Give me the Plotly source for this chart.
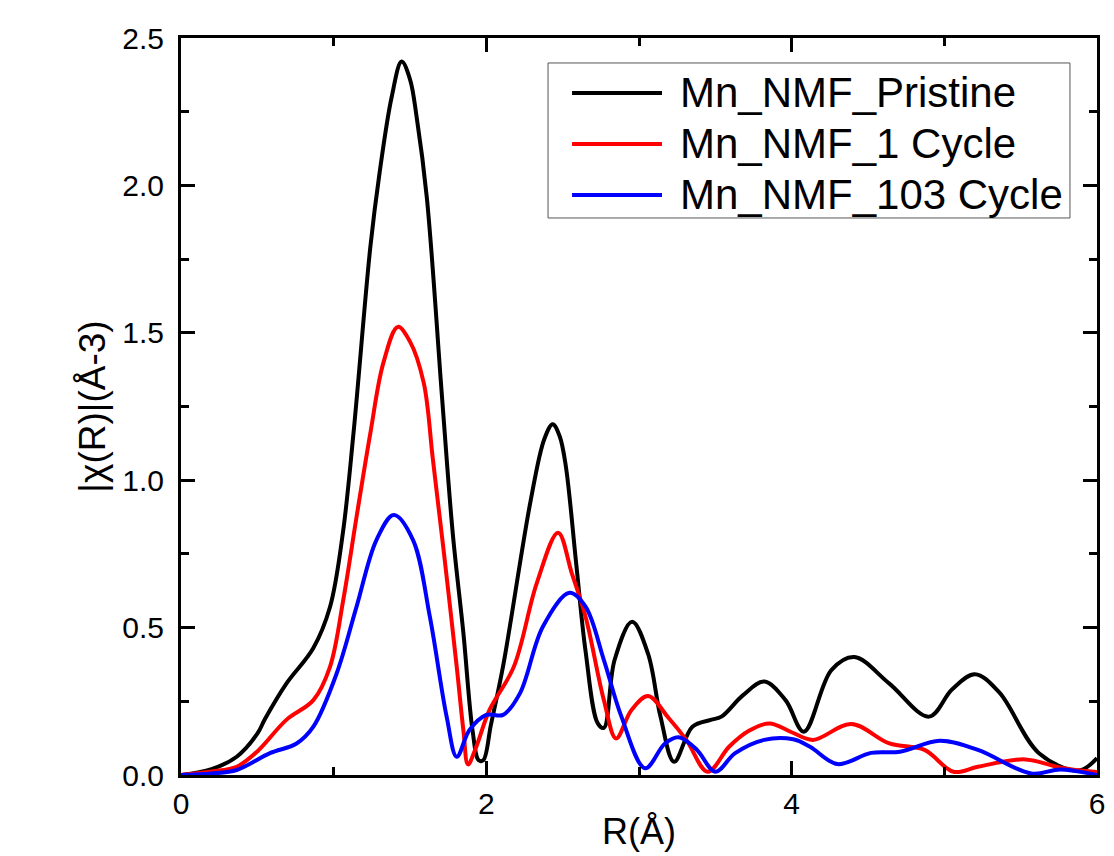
import plotly.graph_objects as go

# Fourier-transform magnitudes
r_pristine = [0, 0.2, 0.365, 0.5, 0.55, 0.69, 0.866, 0.976, 1.06, 1.13, 1.24, 1.30, 1.38, 1.445,
              1.50, 1.544, 1.61, 1.71, 1.78, 1.85, 1.91, 1.95, 1.98, 2.03, 2.11, 2.29, 2.38, 2.435,
              2.48, 2.52, 2.59, 2.65, 2.73, 2.77, 2.84, 2.955, 3.06, 3.14, 3.23, 3.35, 3.47, 3.54,
              3.68, 3.82, 3.96, 4.08, 4.26, 4.41, 4.64, 4.90, 5.05, 5.20, 5.36, 5.62, 5.88, 6.0]
chi_pristine = [0, 0.02, 0.062, 0.14, 0.19, 0.31, 0.43, 0.57, 0.82, 1.16, 1.79, 2.04, 2.30, 2.42,
                2.36, 2.23, 1.96, 1.28, 0.82, 0.48, 0.15, 0.05, 0.05, 0.17, 0.37, 0.93, 1.14, 1.19,
                1.15, 1.05, 0.71, 0.42, 0.175, 0.16, 0.39, 0.52, 0.41, 0.20, 0.045, 0.164, 0.187, 0.198,
                0.27, 0.317, 0.254, 0.147, 0.356, 0.40, 0.31, 0.198, 0.29, 0.342, 0.28, 0.074, 0.015, 0.057]

r_1cycle = [0, 0.2, 0.365, 0.5, 0.69, 0.867, 0.976, 1.063, 1.15, 1.24, 1.325, 1.42, 1.50, 1.59,
            1.65, 1.72, 1.806, 1.85, 1.88, 1.93, 2.02, 2.18, 2.33, 2.47, 2.56, 2.65, 2.77, 2.85,
            2.95, 3.06, 3.19, 3.31, 3.45, 3.59, 3.72, 3.855, 4.0, 4.14, 4.39, 4.64, 4.87, 5.06,
            5.22, 5.53, 5.76, 6.0]
chi_1cycle = [0, 0.012, 0.028, 0.08, 0.187, 0.254, 0.367, 0.594, 0.876, 1.159, 1.397, 1.52, 1.47, 1.33,
              1.07, 0.763, 0.367, 0.15, 0.036, 0.09, 0.22, 0.367, 0.65, 0.822, 0.684, 0.537, 0.254, 0.124,
              0.22, 0.268, 0.196, 0.119, 0.011, 0.096, 0.15, 0.175, 0.145, 0.119, 0.173, 0.107, 0.085, 0.011,
              0.028, 0.053, 0.025, 0.01]

r_103cycle = [0, 0.2, 0.365, 0.583, 0.757, 0.867, 1.02, 1.15, 1.28, 1.394, 1.52, 1.63, 1.74, 1.806,
              1.89, 2.0, 2.11, 2.22, 2.37, 2.545, 2.65, 2.77, 2.885, 3.04, 3.17, 3.26, 3.38, 3.50,
              3.63, 3.82, 4.01, 4.12, 4.30, 4.52, 4.71, 4.97, 5.22, 5.57, 5.76, 6.0]
chi_103cycle = [0, 0.005, 0.017, 0.074, 0.107, 0.164, 0.345, 0.571, 0.797, 0.882, 0.797, 0.537, 0.198, 0.062,
                0.153, 0.204, 0.204, 0.277, 0.503, 0.618, 0.571, 0.39, 0.198, 0.023, 0.107, 0.128, 0.085, 0.011,
                0.074, 0.119, 0.121, 0.096, 0.037, 0.075, 0.079, 0.116, 0.085, 0.005, 0.019, 0.0]

series = [
    ("Mn_NMF_Pristine", r_pristine, chi_pristine, "#000000"),
    ("Mn_NMF_1 Cycle", r_1cycle, chi_1cycle, "#FF0000"),
    ("Mn_NMF_103 Cycle", r_103cycle, chi_103cycle, "#0000FF"),
]

FONT = "Liberation Sans, Arial, sans-serif"

fig = go.Figure()
for name, r, chi, color in series:
    fig.add_trace(go.Scatter(
        x=r, y=chi, mode="lines", name=name, showlegend=False,
        line=dict(color=color, width=4, shape="spline", smoothing=1.0),
    ))

# Origin-style boxed legend, drawn in paper coordinates
shapes = [dict(type="rect", xref="paper", yref="paper", x0=0.4007, x1=0.9705, y0=0.7558, y1=0.9661,
               line=dict(color="#555555", width=1), fillcolor="white", layer="above")]
annotations = []
row_y = [0.9254, 0.8562, 0.7870]
for (name, _, _, color), yy in zip(series, row_y):
    shapes.append(dict(type="line", xref="paper", yref="paper", x0=0.4269, x1=0.5251, y0=yy, y1=yy,
                       line=dict(color=color, width=4), layer="above"))
    annotations.append(dict(text=name, xref="paper", yref="paper", x=0.5426, y=yy,
                            xanchor="left", yanchor="middle", showarrow=False,
                            font=dict(size=42, color="black", family=FONT)))

axis_common = dict(
    showline=True, linecolor="black", linewidth=3, mirror="ticks",
    ticks="inside", ticklen=14, tickwidth=2.5, tickcolor="black",
    showgrid=False, zeroline=False, automargin=False,
    tickfont=dict(size=30, color="black", family=FONT),
)

fig.update_xaxes(
    range=[0, 6], dtick=2, tick0=0,
    minor=dict(ticks="inside", ticklen=8, tickwidth=2.5, dtick=1, tickcolor="black"),
    title=dict(text="R(Å)", font=dict(size=36, color="black", family=FONT), standoff=0),
    **axis_common,
)
fig.update_yaxes(
    range=[0, 2.5], dtick=0.5, tick0=0, tickformat=".1f",
    minor=dict(ticks="inside", ticklen=8, tickwidth=2.5, dtick=0.25, tickcolor="black"),
    title=dict(text="|χ(R)|(Å-3)", font=dict(size=37, color="black", family=FONT), standoff=6),
    ticklabelstandoff=8,
    **axis_common,
)

# the page body adds an 8px offset, so the figure is shrunk by that amount
fig.update_layout(
    width=1106, height=848,
    paper_bgcolor="white", plot_bgcolor="white",
    margin=dict(l=173, r=17, t=30, b=81),
    shapes=shapes,
    annotations=annotations,
)

fig.write_html("out.html")
